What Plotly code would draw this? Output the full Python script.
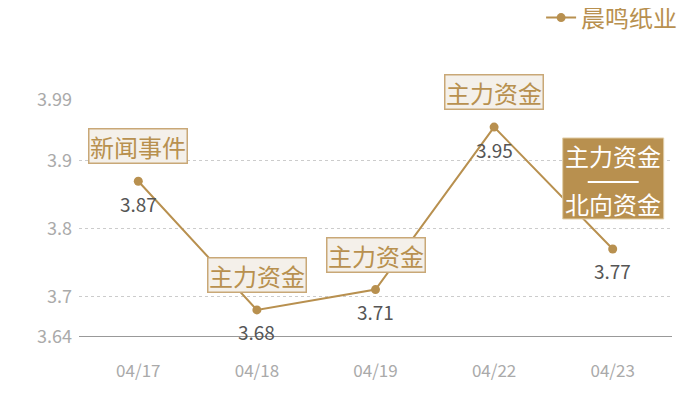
import plotly.graph_objects as go

dates = ["04/17", "04/18", "04/19", "04/22", "04/23"]
prices = [3.87, 3.68, 3.71, 3.95, 3.77]
value_labels = ["3.87", "3.68", "3.71", "3.95", "3.77"]
events = ["新闻事件", "主力资金", "主力资金", "主力资金", "主力资金|北向资金"]
event_dark = [False, False, False, False, True]
y_ticks = [3.64, 3.7, 3.8, 3.9, 3.99]
y_tick_text = ["3.64", "3.7", "3.8", "3.9", "3.99"]
series_name = "晨鸣纸业"

GOLD = "#b8904f"
FONT = "Noto Sans CJK SC"

fig = go.Figure()
fig.add_trace(go.Scatter(
    x=dates, y=prices, mode="lines+markers", name=series_name,
    line=dict(color=GOLD, width=2),
    marker=dict(color=GOLD, size=9),
    cliponaxis=False,
))

for d, p, lab in zip(dates, prices, value_labels):
    fig.add_annotation(
        x=d, y=p, text=lab, showarrow=False, yanchor="middle", yshift=-22,
        font=dict(color="#555555", size=19, family=FONT),
    )

for d, p, ev, dark in zip(dates, prices, events, event_dark):
    if dark:
        top, bottom = ev.split("|")
        fig.add_shape(type="rect", xref="x", yref="y", xsizemode="pixel", ysizemode="pixel",
                      xanchor=d, yanchor=p, x0=-50, x1=51, y0=30, y1=111,
                      fillcolor=GOLD, line=dict(color="#e2cfa8", width=1))
        fig.add_shape(type="line", xref="x", yref="y", xsizemode="pixel", ysizemode="pixel",
                      xanchor=d, yanchor=p, x0=-25, x1=26, y0=67, y1=67,
                      line=dict(color="white", width=2))
        fig.add_annotation(x=d, y=p, text=top, showarrow=False, yanchor="middle", yshift=93,
                           font=dict(color="white", size=24, family=FONT))
        fig.add_annotation(x=d, y=p, text=bottom, showarrow=False, yanchor="middle", yshift=45,
                           font=dict(color="white", size=24, family=FONT))
    else:
        fig.add_annotation(
            x=d, y=p, text=ev, showarrow=False, yanchor="bottom", yshift=17,
            font=dict(color=GOLD, size=24, family=FONT),
            bgcolor="#f4f0ea", bordercolor="#c9a877", borderwidth=1.5, borderpad=0,
            width=97, height=33,
        )

fig.update_layout(
    width=700, height=400,
    margin=dict(l=71, r=36, t=92, b=71, autoexpand=False),
    paper_bgcolor="white", plot_bgcolor="white",
    font=dict(family=FONT),
    showlegend=True,
    legend=dict(orientation="h", xref="container", yref="container",
                x=0.963, xanchor="right", y=0.975, yanchor="middle",
                font=dict(color=GOLD, size=24, family=FONT), itemwidth=30),
    xaxis=dict(type="category", showgrid=False, showline=False, zeroline=False,
               tickfont=dict(color="#aaaaaa", size=17, family=FONT),
               ticklabelstandoff=22, range=[-0.5, 4.5], automargin=False),
    yaxis=dict(range=[3.64, 3.99], tickvals=y_ticks, ticktext=y_tick_text,
               showgrid=True, gridcolor="#cccccc", griddash="dot", gridwidth=1,
               zeroline=False, showline=False, automargin=False,
               tickfont=dict(color="#aaaaaa", size=18, family=FONT),
               ticklabelstandoff=6),
)
fig.add_shape(type="line", xref="paper", yref="y", x0=0, x1=1, y0=3.64, y1=3.64,
              line=dict(color="#333333", width=1))

fig.write_html("out.html")
